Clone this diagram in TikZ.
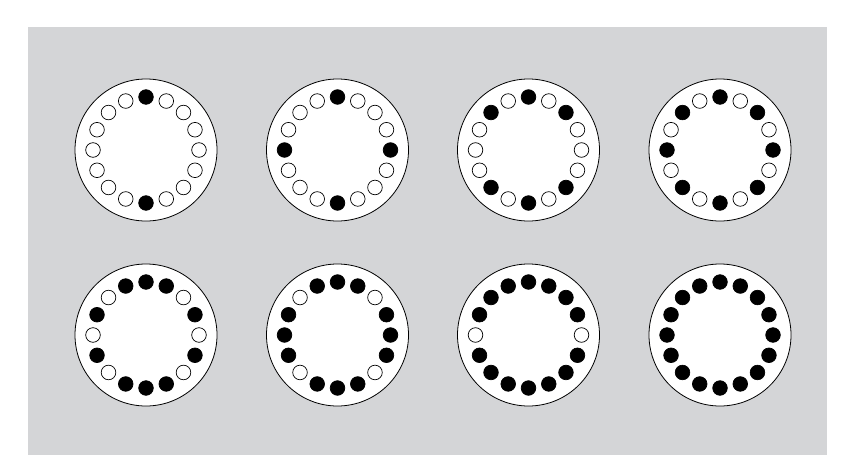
\documentclass[tikz,border=0pt]{standalone}
\definecolor{bggray}{RGB}{212,213,215}
\tikzset{
  disk/.style={draw=black, line width=0.8pt, fill=white},
  dot/.style={draw=black, line width=0.7pt}
}
\begin{document}
\begin{tikzpicture}[x=1pt,y=-1pt]
\useasboundingbox (0,0) rectangle (852,474);
\fill[bggray] (28,27) rectangle (827,455);
\foreach \cx/\cy/\pat in {
  146/150/{1,0,0,0,0,0,0,0,1,0,0,0,0,0,0,0},
  337.5/150/{1,0,0,0,1,0,0,0,1,0,0,0,1,0,0,0},
  528.5/150/{1,0,1,0,0,0,1,0,1,0,1,0,0,0,1,0},
  720/150/{1,0,1,0,1,0,1,0,1,0,1,0,1,0,1,0},
  146/335/{1,1,0,1,0,1,0,1,1,1,0,1,0,1,0,1},
  337.5/335/{1,1,0,1,1,1,0,1,1,1,0,1,1,1,0,1},
  528.5/335/{1,1,1,1,0,1,1,1,1,1,1,1,0,1,1,1},
  720/335/{1,1,1,1,1,1,1,1,1,1,1,1,1,1,1,1}} {
  \draw[disk] (\cx,\cy) circle[radius=71];
  \foreach \f [count=\k from 0] in \pat {
    \ifnum\f=1 \def\fc{black}\else\def\fc{white}\fi
    \draw[dot, fill=\fc] ({\cx+53*sin(22.5*\k)},{\cy-53*cos(22.5*\k)}) circle[radius=7.3];
  }
}
\end{tikzpicture}
\end{document}
